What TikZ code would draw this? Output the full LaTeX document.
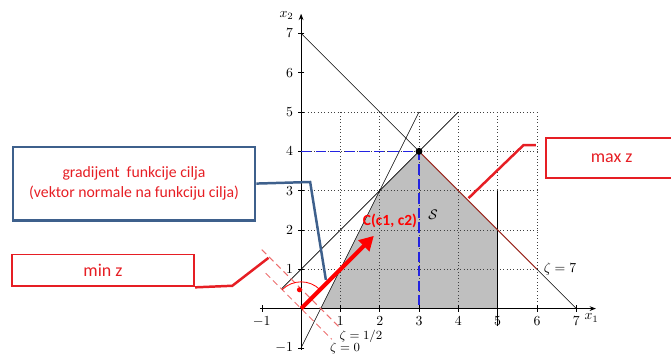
\documentclass[tikz,border=0pt]{standalone}
\usepackage{fontspec}
\usepackage{amsmath, amssymb}
\usetikzlibrary{arrows.meta,calc}
\newfontfamily\calloutfont{Carlito}
\definecolor{calred}{RGB}{230,30,36}
\definecolor{calblue}{RGB}{62,96,140}
\definecolor{levelred}{RGB}{236,110,110}
\definecolor{optblue}{RGB}{35,35,225}
\definecolor{objred}{RGB}{175,45,35}
\tikzset{
  redbox/.style={draw=calred, line width=1.4pt, text=calred, font=\calloutfont\fontsize{13}{15}\selectfont},
  bluebox/.style={draw=calblue, line width=1.5pt, text=calred, align=center, font=\calloutfont\fontsize{11.4}{14.5}\selectfont},
  redline/.style={calred, line width=1.8pt},
  blueline/.style={calblue, line width=1.8pt},
  levelline/.style={levelred, dash pattern=on 1.6mm off 1mm, line width=0.7pt},
  optline/.style={optblue, dash pattern=on 2.6mm off 1.1mm, line width=1pt}
}

\begin{document}
\begin{tikzpicture}
        \useasboundingbox (-7.66,-1.15) rectangle (9.41,7.85);
        \fill[gray!50] (0.5,0) -- (2,3) -- (3,4) -- (5,2) -- (5,0) -- cycle;
        \draw[dotted, black!75] (0,0) grid (6,5);
        \draw[-{Stealth[length=1.6mm]}, line width=0.6pt] (-1.05,0) -- (7.5,0);
        \draw[-{Stealth[length=1.6mm]}, line width=0.6pt] (0,-1.05) -- (0,7.5);
        \foreach \x in {-1,1,2,3,4,5,6,7}
            \draw (\x,0.08) -- (\x,-0.08) node[below] (tx\x) {$\x$};
        \foreach \y in {-1,1,2,3,4,5,6,7}
            \draw (0.08,\y) -- (-0.08,\y) node[left] (ty\y) {$\y$};
        \node (xa) at (7.39,-0.24) {$x_1$};
        \node (ya) at (-0.37,7.45) {$x_2$};
        \draw (0,7) -- (7,0);
        \draw (-0.5,0.5) -- (4,5);
        \draw (0,-1) -- (3,5);
        \draw (5,-0.45) -- (5,3);
        \draw[objred, line width=0.7pt] (3,4) -- (6,1);
        \node[right] (z7) at (6.05,1) {$\zeta = 7$};
        \draw[optline] (0,4) -- (3,4) -- (3,0);
        \fill (3,4) circle (2.5pt);
        \node (S) at (3.36,2.39) {$\mathcal{S}$};
        \draw[levelline] (-1,1.5) -- (1,-0.5);
        \draw[levelline] (-0.9,0.9) -- (0.78,-0.78);
        \node[inner sep=0pt, font=\small] (zh) at (1.52,-0.7) {$\zeta = 1/2$};
        \node[inner sep=0pt, font=\small] (z0) at (1.12,-1.02) {$\zeta = 0$};
        \draw[red, line width=0.6pt] (135:0.68) arc (135:45:0.68);
        \fill[red] (95:0.48) circle (0.065);
        \draw[red, line width=3pt, -{Triangle[length=3.6mm, width=3.8mm]}] (0,0) -- (1.85,1.85);
        \node[text=red, font=\calloutfont\bfseries\fontsize{11.2}{13}\selectfont] (C) at (2.26,2.22) {C(c1, c2)};
        \node[bluebox, minimum width=6.17cm, minimum height=1.88cm] (grad) at (-4.25,3.18) {gradijent\ \ funkcije cilja\\(vektor normale na funkciju cilja)};
        \node[redbox, minimum width=4.64cm, minimum height=0.81cm] (minz) at (-5.04,0.97) {min z};
        \node[redbox, minimum width=3.34cm, minimum height=1.03cm] (maxz) at (7.9,3.83) {max z};
        \coordinate (gradbend) at (0.23,3.22);
        \coordinate (gradtip) at (0.63,0.73);
        \coordinate (minbend) at (-1.75,0.58);
        \coordinate (mintip) at (-0.83,1.29);
        \coordinate (maxbend) at (5.66,4.16);
        \coordinate (maxtip) at (4.26,2.81);
        \draw[blueline] (grad.east) -- (gradbend) -- (gradtip);
        \draw[redline] (minz.south east) -- (minbend) -- (mintip);
        \draw[redline] ($(maxz.west)+(-0.23,0.33)$) -- (maxbend) -- (maxtip);
    \end{tikzpicture}
\end{document}
